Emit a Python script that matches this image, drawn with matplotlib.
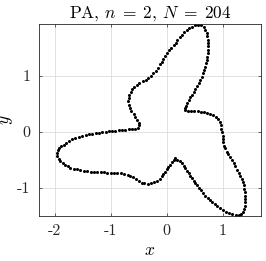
import matplotlib
matplotlib.use("Agg")
import matplotlib.pyplot as plt

plt.rcParams["font.family"] = "cmr10"
plt.rcParams["mathtext.fontset"] = "cm"
plt.rcParams["axes.unicode_minus"] = False
plt.rcParams["axes.formatter.use_mathtext"] = True

# points, walking round the closed curve
x = [-0.98, -0.92, -0.86, -0.80, -0.74, -0.68, -0.62, -0.565,
     -0.51, -0.49, -0.50, -0.53, -0.56, -0.59, -0.645, -0.665, -0.68,
     -0.685, -0.68, -0.67, -0.645, -0.62, -0.59, -0.54, -0.49, -0.43,
     -0.38, -0.33, -0.28, -0.24, -0.20, -0.16, -0.12, -0.09, -0.06,
     -0.03, 0.0, 0.04, 0.08, 0.12, 0.155, 0.19, 0.23, 0.27, 0.31,
     0.355, 0.40, 0.45, 0.505, 0.56, 0.615, 0.66, 0.69, 0.71, 0.725,
     0.73, 0.735, 0.735, 0.733, 0.73, 0.725, 0.715, 0.70, 0.68, 0.665,
     0.645, 0.625, 0.60, 0.57, 0.54, 0.51, 0.48, 0.45, 0.42, 0.39, 0.36,
     0.34, 0.32, 0.33, 0.37, 0.43, 0.49, 0.55, 0.61, 0.67, 0.72, 0.77,
     0.82, 0.87, 0.91, 0.94, 0.96, 0.975, 0.985, 0.995, 1.00, 1.01,
     1.02, 1.035, 1.065, 1.10, 1.13, 1.16, 1.19, 1.22, 1.25, 1.28, 1.31,
     1.335, 1.355, 1.37, 1.385, 1.395, 1.40, 1.40, 1.40, 1.395, 1.38,
     1.36, 1.33, 1.28, 1.23, 1.17, 1.11, 1.05, 1.00, 0.95, 0.90, 0.855,
     0.81, 0.77, 0.73, 0.69, 0.65, 0.61, 0.575, 0.54, 0.51, 0.48, 0.45,
     0.42, 0.39, 0.36, 0.33, 0.30, 0.27, 0.23, 0.19, 0.15, 0.12, 0.09,
     0.06, 0.03, 0.0, -0.03, -0.06, -0.09, -0.13, -0.18, -0.23, -0.28,
     -0.34, -0.40, -0.45, -0.50, -0.55, -0.60, -0.65, -0.70, -0.76,
     -0.82, -0.88, -0.94, -1.00, -1.06, -1.12, -1.18, -1.24, -1.30,
     -1.36, -1.42, -1.48, -1.54, -1.60, -1.66, -1.72, -1.77, -1.82,
     -1.86, -1.90, -1.93, -1.955, -1.96, -1.945, -1.915, -1.88, -1.84,
     -1.79, -1.74, -1.69, -1.63, -1.57, -1.51, -1.45, -1.39, -1.33,
     -1.27, -1.21, -1.15, -1.09, -1.03]
y = [0.01, 0.017, 0.023, 0.03, 0.037, 0.043, 0.05, 0.055,
     0.07, 0.11, 0.16, 0.21, 0.26, 0.31, 0.37, 0.425, 0.48,
     0.54, 0.60, 0.655, 0.71, 0.76, 0.80, 0.835, 0.865, 0.895,
     0.92, 0.955, 0.995, 1.04, 1.09, 1.14, 1.20, 1.25, 1.30,
     1.35, 1.40, 1.45, 1.50, 1.545, 1.59, 1.635, 1.68, 1.725, 1.77,
     1.81, 1.845, 1.875, 1.90, 1.91, 1.895, 1.86, 1.81, 1.76, 1.70,
     1.64, 1.58, 1.52, 1.46, 1.40, 1.34, 1.28, 1.22, 1.16, 1.10,
     1.04, 0.98, 0.92, 0.865, 0.815, 0.76, 0.71, 0.66, 0.61, 0.56, 0.51,
     0.46, 0.415, 0.38, 0.37, 0.37, 0.365, 0.36, 0.355, 0.345, 0.33, 0.31,
     0.29, 0.26, 0.22, 0.165, 0.11, 0.05, -0.01, -0.07, -0.13, -0.19,
     -0.25, -0.30, -0.355, -0.405, -0.455, -0.505, -0.56, -0.62, -0.68, -0.735, -0.79,
     -0.845, -0.90, -0.96, -1.02, -1.08, -1.14, -1.20, -1.26, -1.32, -1.38,
     -1.43, -1.47, -1.49, -1.49, -1.475, -1.455, -1.43, -1.40, -1.37, -1.33, -1.29,
     -1.255, -1.22, -1.18, -1.14, -1.10, -1.05, -1.005, -0.96, -0.92, -0.875, -0.83,
     -0.785, -0.74, -0.695, -0.65, -0.605, -0.565, -0.53, -0.50, -0.475, -0.51, -0.55,
     -0.59, -0.625, -0.67, -0.715, -0.76, -0.80, -0.84, -0.875, -0.905, -0.92,
     -0.93, -0.925, -0.91, -0.88, -0.845, -0.81, -0.785, -0.765, -0.75,
     -0.745, -0.74, -0.735, -0.73, -0.73, -0.727, -0.724, -0.72, -0.717,
     -0.713, -0.71, -0.70, -0.69, -0.675, -0.66, -0.64, -0.615, -0.59,
     -0.56, -0.53, -0.49, -0.44, -0.38, -0.33, -0.29, -0.26, -0.23,
     -0.20, -0.17, -0.14, -0.115, -0.095, -0.08, -0.065, -0.05, -0.038,
     -0.03, -0.02, -0.012, -0.005, 0.003]

xticks = [-2, -1, 0, 1]
yticks = [-1, 0, 1]

fig = plt.figure(figsize=(2.66, 2.61), dpi=100)
ax = fig.add_axes([0.1466, 0.1724, 0.8346, 0.7356])

ax.plot(x, y, linestyle="none", marker="o", markersize=2.2,
        color="black", markeredgewidth=0, clip_on=False)

ax.set_ylim(min(y) - 0.015, max(y) + 0.01)
ax.set_xlim(min(x), max(x))
ax.set_aspect("equal", adjustable="datalim")

ax.set_xticks(xticks)
ax.set_yticks(yticks)
ax.set_xticklabels([str(t) for t in xticks])
ax.set_yticklabels([str(t) for t in yticks])
ax.tick_params(direction="in", length=2.5, width=0.5, colors="#262626",
               labelsize=11.5, top=True, right=True, pad=6)
ax.grid(True, color="#dcdcdc", linewidth=0.6)
ax.set_axisbelow(True)
for s in ax.spines.values():
    s.set_color("#262626")
    s.set_linewidth(0.6)

ax.set_title(r"PA, $n\;=\;2$, $N\;=\;204$", fontsize=12.5, pad=5)
ax.set_xlabel(r"$x$", fontsize=12.5, labelpad=3)
ax.set_ylabel(r"$y$", fontsize=12.5, labelpad=2)

fig.savefig("out.png", dpi=100)
